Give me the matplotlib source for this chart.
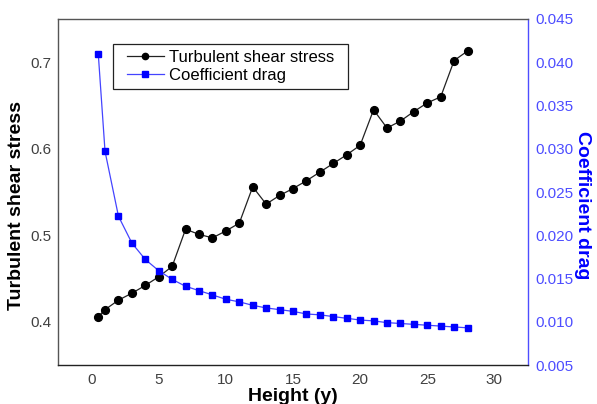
import matplotlib
matplotlib.use('Agg')
import matplotlib.pyplot as plt
from matplotlib.patches import Rectangle

plt.rcParams['font.family'] = ['Liberation Sans', 'DejaVu Sans']

# Data
height = [0.5, 1, 2, 3, 4, 5, 6, 7, 8, 9, 10, 11, 12, 13, 14, 15, 16, 17, 18, 19,
          20, 21, 22, 23, 24, 25, 26, 27, 28]
shear_stress = [0.406, 0.414, 0.425, 0.433, 0.442, 0.452, 0.464, 0.507, 0.501, 0.497,
                0.505, 0.514, 0.556, 0.536, 0.546, 0.554, 0.563, 0.573, 0.583, 0.593,
                0.604, 0.645, 0.624, 0.632, 0.643, 0.653, 0.660, 0.702, 0.713]
drag_coef = [0.0409, 0.0297, 0.0222, 0.0191, 0.0172, 0.0159, 0.0149, 0.0141, 0.0136, 0.0131,
             0.0126, 0.0123, 0.0119, 0.0116, 0.0114, 0.0112, 0.0109, 0.0108, 0.0106, 0.0104,
             0.0102, 0.0101, 0.0099, 0.0098, 0.0097, 0.0096, 0.0095, 0.0094, 0.0093]

x_ticks = [0, 5, 10, 15, 20, 25, 30]
left_ticks = [0.4, 0.5, 0.6, 0.7]
right_ticks = [0.005, 0.010, 0.015, 0.020, 0.025, 0.030, 0.035, 0.040, 0.045]

fig = plt.figure(figsize=(5.97, 4.04), dpi=100)
ax = fig.add_axes([0.0972, 0.0965, 0.7872, 0.8565])
ax2 = ax.twinx()

l1, = ax.plot(height, shear_stress, color='#222222', lw=0.9, marker='o', ms=5.6,
              mfc='black', mec='black', label='Turbulent shear stress', zorder=3)
l2, = ax2.plot(height, drag_coef, color='#4444ff', lw=0.9, marker='s', ms=5.0,
               mfc='#0000ff', mec='#0000ff', label='Coefficient drag', zorder=3)

ax.set_xlim(-2.5, 32.5)
ax.set_ylim(0.35, 0.75)
ax2.set_ylim(0.005, 0.045)
ax.set_xticks(x_ticks)
ax.set_yticks(left_ticks)
ax2.set_yticks(right_ticks)
ax2.set_yticklabels(['%.3f' % v for v in right_ticks])

ax.tick_params(axis='both', length=0, labelsize=11, labelcolor='#404040')
ax.tick_params(axis='x', pad=6)
ax.tick_params(axis='y', pad=5)
ax2.tick_params(axis='y', length=0, labelsize=11, labelcolor='#4d4dff', pad=5)

for sp in ['top', 'left']:
    ax2.spines[sp].set_color('#555555')
ax2.spines['bottom'].set_color('#222222')
ax2.spines['right'].set_color('#4d4dff')
for s in ax2.spines.values():
    s.set_linewidth(1.0)
for s in ax.spines.values():
    s.set_visible(False)

ax.set_xlabel('Height (y)', fontsize=14, fontweight='bold')
ax.xaxis.set_label_coords(0.5, -0.066)
ax.set_ylabel('Turbulent shear stress', fontsize=14, fontweight='bold')
ax.yaxis.set_label_coords(-0.070, 0.462)
ax2.set_ylabel('Coefficient drag', fontsize=14, fontweight='bold', color='#0000ff',
               rotation=270)
ax2.yaxis.set_label_coords(1.135, 0.462)

# legend without its own frame; a wider box is drawn round it afterwards
leg = ax2.legend([l1, l2], ['Turbulent shear stress', 'Coefficient drag'],
                 loc='upper left', bbox_to_anchor=(0.147, 0.911), fontsize=12,
                 frameon=False, handlelength=2.2, borderpad=0.0, labelspacing=0.2,
                 handletextpad=0.3, borderaxespad=0)
for h in leg.legend_handles:
    h.set_markersize(4.5)

fig.canvas.draw()
bb = leg.get_window_extent().transformed(fig.transFigure.inverted())
padx, pady = 14 / 597, 6 / 404
fig.patches.append(Rectangle((bb.x0 - padx, bb.y0 - pady), bb.width + 2 * padx,
                             bb.height + 2 * pady, transform=fig.transFigure,
                             fill=False, edgecolor='#222222', linewidth=0.9, zorder=5))

fig.savefig('out.png', dpi=100)
